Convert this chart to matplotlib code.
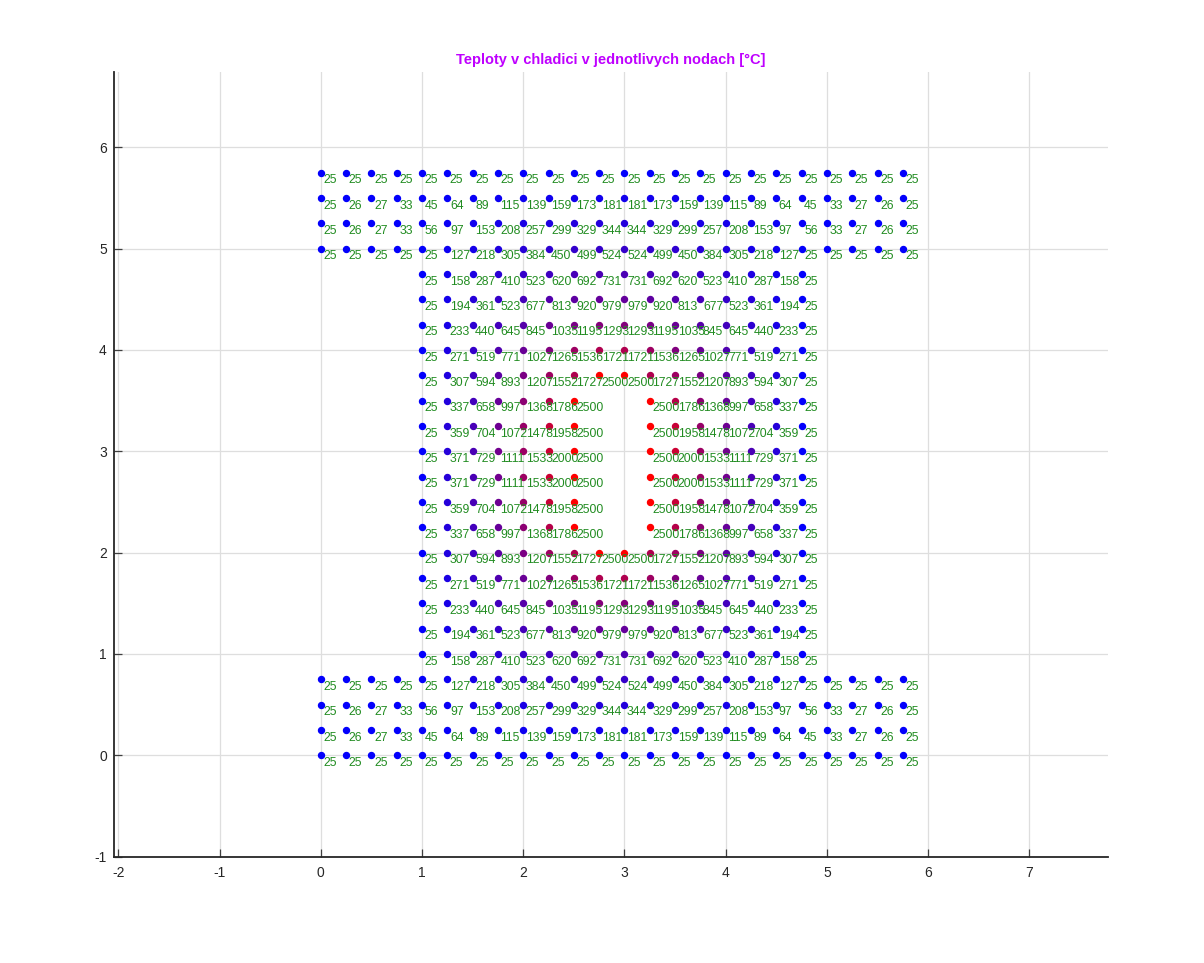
import numpy as np
import matplotlib
matplotlib.use("Agg")
import matplotlib.pyplot as plt

plt.rcParams['font.family'] = ['Liberation Sans', 'DejaVu Sans']
plt.rcParams['axes.unicode_minus'] = False

# teploty v uzlech [°C]
# pasnice (dole i nahore symetricky), 24 uzlu v rade, x = 0 .. 5.75
flange_x = np.arange(0, 6, 0.25)
flange_y = [0.0, 0.25, 0.5, 0.75]
flange_T = [
    [25, 25, 25, 25, 25, 25, 25, 25, 25, 25, 25, 25, 25, 25, 25, 25, 25, 25, 25, 25, 25, 25, 25, 25],
    [25, 26, 27, 33, 45, 64, 89, 115, 139, 159, 173, 181, 181, 173, 159, 139, 115, 89, 64, 45, 33, 27, 26, 25],
    [25, 26, 27, 33, 56, 97, 153, 208, 257, 299, 329, 344, 344, 329, 299, 257, 208, 153, 97, 56, 33, 27, 26, 25],
    [25, 25, 25, 25, 25, 127, 218, 305, 384, 450, 499, 524, 524, 499, 450, 384, 305, 218, 127, 25, 25, 25, 25, 25],
]
flange_top_y = [5.75, 5.5, 5.25, 5.0]

# stojina, 16 uzlu v rade, x = 1 .. 4.75
web_x = np.arange(1, 5, 0.25)
web_y = [1.0, 1.25, 1.5, 1.75, 2.0]
web_T = [
    [25, 158, 287, 410, 523, 620, 692, 731, 731, 692, 620, 523, 410, 287, 158, 25],
    [25, 194, 361, 523, 677, 813, 920, 979, 979, 920, 813, 677, 523, 361, 194, 25],
    [25, 233, 440, 645, 845, 1035, 1195, 1293, 1293, 1195, 1035, 845, 645, 440, 233, 25],
    [25, 271, 519, 771, 1027, 1265, 1536, 1721, 1721, 1536, 1265, 1027, 771, 519, 271, 25],
    [25, 307, 594, 893, 1207, 1552, 1727, 2500, 2500, 1727, 1552, 1207, 893, 594, 307, 25],
]
web_top_y = [4.75, 4.5, 4.25, 4.0, 3.75]

# rady s otvorem (chybi uzly x = 2.75 a 3.0)
hole_x = [1.0, 1.25, 1.5, 1.75, 2.0, 2.25, 2.5, 3.25, 3.5, 3.75, 4.0, 4.25, 4.5, 4.75]
hole_y = [2.25, 2.5, 2.75]
hole_T = [
    [25, 337, 658, 997, 1368, 1786, 2500, 2500, 1786, 1368, 997, 658, 337, 25],
    [25, 359, 704, 1072, 1478, 1958, 2500, 2500, 1958, 1478, 1072, 704, 359, 25],
    [25, 371, 729, 1111, 1533, 2000, 2500, 2500, 2000, 1533, 1111, 729, 371, 25],
]
hole_top_y = [3.5, 3.25, 3.0]

T_max = 2500

# poskladani vsech uzlu
X, Y, T = [], [], []
for xs, ys, ys2, Ts in [(flange_x, flange_y, flange_top_y, flange_T),
                        (web_x, web_y, web_top_y, web_T),
                        (hole_x, hole_y, hole_top_y, hole_T)]:
    for yy, yy2, row in zip(ys, ys2, Ts):
        for xx, t in zip(xs, row):
            X += [xx, xx]
            Y += [yy, yy2]
            T += [t, t]

fig = plt.figure(figsize=(12.04, 9.63), dpi=100)
ax = fig.add_axes([0.0945, 0.1105, 0.826, 0.8145])

for xx, yy, t in zip(X, Y, T):
    c = (t / T_max, 0, 1 - t / T_max)
    ax.plot(xx, yy, 'o', color=c, markersize=4.3, zorder=3)
for xx, yy, t in zip(X, Y, T):
    ax.text(xx + 0.025, yy - 0.105, str(t), color=(0.13, 0.55, 0.13),
            fontsize=8.8, va='baseline', ha='left', zorder=4)

ax.set_xlim(-2.046, 7.78)
ax.set_ylim(-1, 6.74)
ax.set_xticks(range(-2, 8))
ax.set_yticks(range(-1, 7))
ax.grid(True, color=(0.87, 0.87, 0.87), linewidth=0.9)
ax.set_axisbelow(True)
ax.spines['top'].set_visible(False)
ax.spines['right'].set_visible(False)
for s in ['left', 'bottom']:
    ax.spines[s].set_color((0.15, 0.15, 0.15))
    ax.spines[s].set_linewidth(1.3)
ax.tick_params(direction='in', length=6, width=0.9, colors=(0.25, 0.25, 0.25),
               labelcolor=(0.15, 0.15, 0.15), labelsize=10)
ax.tick_params(axis='x', pad=7)
ax.tick_params(axis='y', pad=5)
ax.set_title("Teploty v chladici v jednotlivych nodach [°C]", color=(0.75, 0, 1),
             fontweight='bold', fontsize=10.5, pad=6)

fig.savefig("out.png", dpi=100)
